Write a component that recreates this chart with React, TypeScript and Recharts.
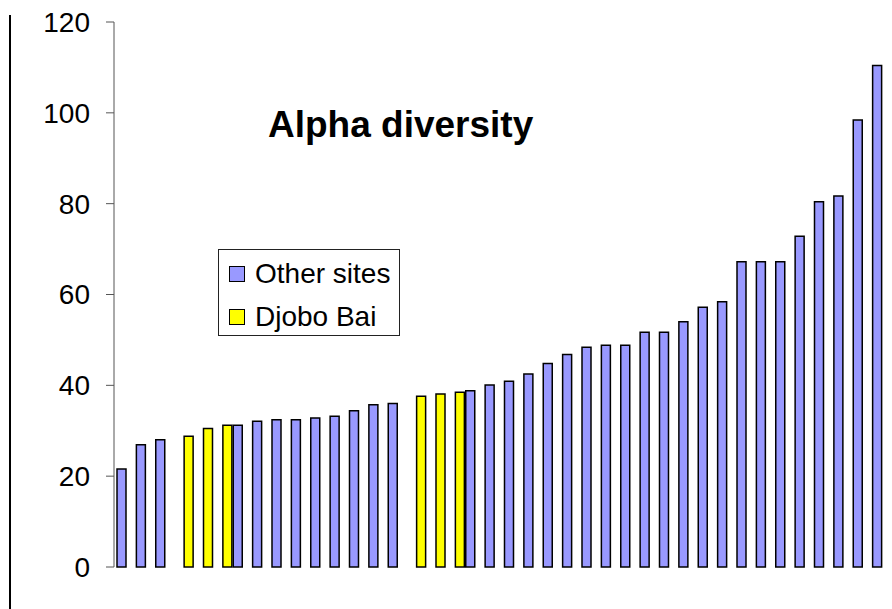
import React from "react";
import { BarChart, Bar, XAxis, YAxis, Legend } from "recharts";

const sites = Array.from({ length: 40 }, (_, i) => `S${i + 1}`);

const otherSites: (number | null)[] = [
  21.6, 26.9, 28.0, null, null, null, 31.2, 32.1, 32.4, 32.4,
  32.8, 33.2, 34.4, 35.7, 36.0, null, null, null, 38.8, 40.1,
  40.9, 42.5, 44.8, 46.8, 48.4, 48.8, 48.8, 51.7, 51.7, 54.0,
  57.2, 58.4, 67.2, 67.2, 67.2, 72.8, 80.4, 81.7, 98.4, 110.4,
];

const djoboBai: (number | null)[] = [
  null, null, null, 28.8, 30.5, 31.2, null, null, null, null,
  null, null, null, null, null, 37.6, 38.1, 38.5, null, null,
  null, null, null, null, null, null, null, null, null, null,
  null, null, null, null, null, null, null, null, null, null,
];

const yTicks = [0, 20, 40, 60, 80, 100, 120];

const SERIES = [
  { key: "other", name: "Other sites", color: "#9999FF" },
  { key: "djobo", name: "Djobo Bai", color: "#FFFF00" },
];

const data = sites.map((s, i) => ({
  site: s,
  other: otherSites[i],
  djobo: djoboBai[i],
}));

const FONT = "'Liberation Sans', Arial, sans-serif";

function LegendBox() {
  return (
    <div
      style={{
        width: 180,
        height: 85,
        border: "1px solid #222",
        background: "#fff",
        position: "relative",
        fontFamily: FONT,
        fontSize: 28,
        color: "#000",
      }}
    >
      {SERIES.map((s, i) => (
        <div
          key={s.key}
          style={{
            position: "absolute",
            left: 10,
            top: 8 + i * 43,
            height: 32,
            display: "flex",
            alignItems: "center",
            whiteSpace: "nowrap",
          }}
        >
          <span
            style={{
              display: "inline-block",
              width: 14,
              height: 14,
              background: s.color,
              border: "1.5px solid #000",
              marginRight: 10,
            }}
          />
          {s.name}
        </div>
      ))}
    </div>
  );
}

export default function App() {
  return (
    <div style={{ position: "absolute", left: 0, top: 0, width: 892, height: 609, background: "#fff" }}>
      <BarChart
        width={892}
        height={609}
        data={data}
        margin={{ top: 22, right: 1, bottom: 42, left: 0 }}
        barGap={0}
        barSize={9}
      >
        <XAxis dataKey="site" hide padding={{ left: 2, right: 0 }} />
        <YAxis
          width={114}
          domain={[0, 120]}
          ticks={yTicks}
          interval={0}
          tickSize={8}
          tickMargin={16}
          axisLine={{ stroke: "#555", strokeWidth: 1 }}
          tickLine={{ stroke: "#555", strokeWidth: 1 }}
          tick={{ fill: "#000", fontSize: 28, fontFamily: FONT }}
        />
        <Legend
          layout="vertical"
          align="center"
          verticalAlign="middle"
          content={() => <LegendBox />}
          wrapperStyle={{ position: "absolute", left: 218, top: 249, width: 182, height: 87 }}
        />
        {SERIES.map((s) => (
          <Bar
            key={s.key}
            dataKey={s.key}
            name={s.name}
            fill={s.color}
            stroke="#000"
            strokeWidth={1.5}
            isAnimationActive={false}
          />
        ))}
      </BarChart>
      <div
        style={{
          position: "absolute",
          left: 268,
          top: 106,
          fontFamily: FONT,
          fontWeight: "bold",
          fontSize: 37,
          lineHeight: 1,
          color: "#000",
          whiteSpace: "nowrap",
        }}
      >
        Alpha diversity
      </div>
      <div style={{ position: "absolute", left: 9, top: 15, width: 2, height: 594, background: "#000" }} />
    </div>
  );
}
